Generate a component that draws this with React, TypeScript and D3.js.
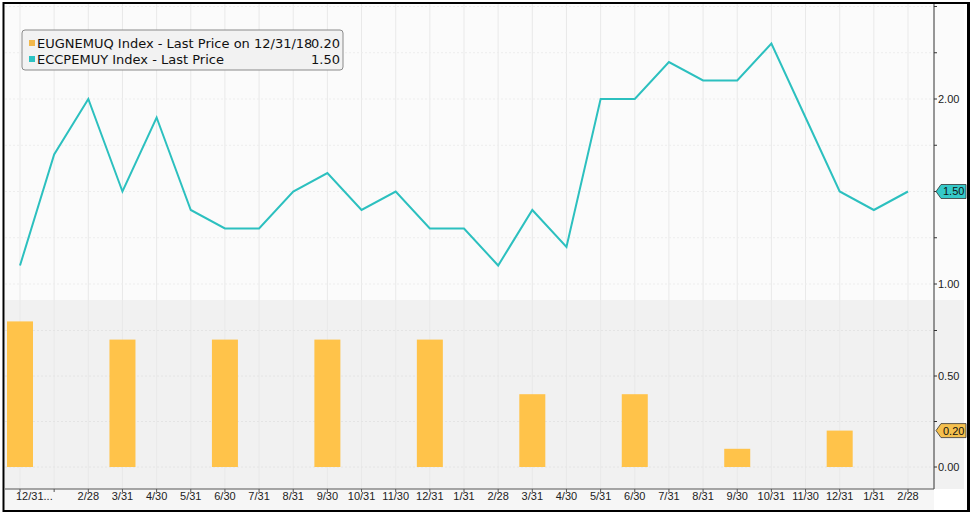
import * as d3 from "d3";
import React, { useEffect, useRef } from "react";

const width = 978;
const height = 519;

// month-end labels, 12/31/16 .. 2/28/19
const months = [
    "12/31", "1/31", "2/28", "3/31", "4/30", "5/31", "6/30", "7/31", "8/31",
    "9/30", "10/31", "11/30", "12/31", "1/31", "2/28", "3/31", "4/30", "5/31",
    "6/30", "7/31", "8/31", "9/30", "10/31", "11/30", "12/31", "1/31", "2/28",
];

// ECCPEMUY Index (line, upper panel)
const lineValues = [
    1.1, 1.7, 2.0, 1.5, 1.9, 1.4, 1.3, 1.3, 1.5, 1.6, 1.4, 1.5, 1.3, 1.3,
    1.1, 1.4, 1.2, 2.0, 2.0, 2.2, 2.1, 2.1, 2.3, 1.9, 1.5, 1.4, 1.5,
];

// EUGNEMUQ Index (quarterly bars, lower panel)
const barValues: Array<number | null> = [
    0.8, null, null, 0.7, null, null, 0.7, null, null, 0.7, null, null, 0.7, null,
    null, 0.4, null, null, 0.4, null, null, 0.1, null, null, 0.2, null, null,
];

// labelled ticks; the last value of each series is shown as a tag instead
const upperTicks = [1.0, 2.0];
const upperMinor = [1.25, 1.5, 1.75, 2.25, 2.5];
const lowerTicks = [0.0, 0.5];
const lowerMinor = [0.25, 0.75];

const legendItems = [
    { name: "EUGNEMUQ Index - Last Price on 12/31/18", value: "0.20", color: "#f2b84b" },
    { name: "ECCPEMUY Index - Last Price", value: "1.50", color: "#2cc3c3" },
];

const lineColor = "#2cc0bf";
const barColor = "#ffc34a";
const font = "'Liberation Sans', Arial, sans-serif";
const legendFont = "'DejaVu Sans', Verdana, sans-serif";

const App: React.FC = () => {
    const ref = useRef<SVGSVGElement>(null);

    useEffect(() => {
        if (!ref.current) return;
        const svg = d3.select(ref.current);
        svg.selectAll("*").remove();

        const left = 5, right = 934, top = 4, mid = 300, bottom = 489;

        const x = d3.scalePoint<number>()
            .domain(d3.range(months.length))
            .range([20, 908]);
        const yTop = d3.scaleLinear().domain([1, 2]).range([284, 99]);
        const yBot = d3.scaleLinear().domain([0, 0.5]).range([467, 376]);

        // backgrounds
        svg.append("rect").attr("width", width).attr("height", height).attr("fill", "#ffffff");
        svg.append("rect").attr("x", left).attr("y", top).attr("width", 964 - left).attr("height", mid - top)
            .attr("fill", "#fbfbfb");
        svg.append("rect").attr("x", left).attr("y", mid).attr("width", 964 - left).attr("height", bottom - mid)
            .attr("fill", "#f1f1f1");
        svg.append("rect").attr("x", left).attr("y", bottom).attr("width", right - left).attr("height", 510 - bottom)
            .attr("fill", "#f6f6f6");

        // grid
        const grid = svg.append("g").attr("stroke-width", 1).attr("fill", "none");
        grid.selectAll(null)
            .data(d3.range(months.length))
            .enter()
            .append("line")
            .attr("x1", (d) => x(d)!)
            .attr("x2", (d) => x(d)!)
            .attr("y1", top)
            .attr("y2", bottom)
            .attr("stroke", "#e9e9e9");
        grid.selectAll(null)
            .data([...upperTicks, ...upperMinor])
            .enter()
            .append("line")
            .attr("x1", left).attr("x2", right)
            .attr("y1", (d) => yTop(d)).attr("y2", (d) => yTop(d))
            .attr("stroke", "#ededed")
            .attr("stroke-dasharray", "2,2");
        grid.selectAll(null)
            .data([...lowerTicks, ...lowerMinor])
            .enter()
            .append("line")
            .attr("x1", left).attr("x2", right)
            .attr("y1", (d) => yBot(d)).attr("y2", (d) => yBot(d))
            .attr("stroke", "#e4e4e4")
            .attr("stroke-dasharray", "2,2");

        // bars
        const bw = 26;
        svg.append("g")
            .selectAll("rect")
            .data(barValues.map((v, i) => [i, v] as [number, number | null]).filter((d) => d[1] !== null))
            .join("rect")
            .attr("x", (d) => Math.max(left, x(d[0])! - bw / 2))
            .attr("width", (d) => x(d[0])! + bw / 2 - Math.max(left, x(d[0])! - bw / 2))
            .attr("y", (d) => yBot(d[1] as number))
            .attr("height", (d) => yBot(0) - yBot(d[1] as number))
            .attr("fill", barColor);

        // line
        const line = d3.line<number>()
            .x((_, i) => x(i)!)
            .y((d) => yTop(d));
        svg.append("path")
            .attr("d", line(lineValues))
            .attr("fill", "none")
            .attr("stroke", lineColor)
            .attr("stroke-width", 2)
            .attr("stroke-linejoin", "miter");

        // right axis
        svg.append("line")
            .attr("x1", right).attr("x2", right)
            .attr("y1", top).attr("y2", bottom)
            .attr("stroke", "#333").attr("stroke-width", 1);
        const addTicks = (scale: d3.ScaleLinear<number, number>, major: number[], minor: number[]) => {
            const g = svg.append("g");
            g.selectAll(null).data([...major, ...minor]).enter().append("line")
                .attr("x1", right).attr("x2", right + 3)
                .attr("y1", (d) => scale(d)).attr("y2", (d) => scale(d))
                .attr("stroke", "#333");
            g.selectAll(null).data(major).enter().append("text")
                .attr("x", right + 4)
                .attr("y", (d) => scale(d))
                .attr("dy", "0.35em")
                .style("font-family", font)
                .style("font-size", "11px")
                .attr("fill", "#222")
                .text((d) => d3.format(".2f")(d));
        };
        addTicks(yTop, upperTicks, upperMinor);
        addTicks(yBot, lowerTicks, lowerMinor);

        // value tags
        const tag = (yv: number, text: string, fill: string) => {
            const g = svg.append("g").attr("transform", `translate(${right + 2}, ${yv})`);
            g.append("path")
                .attr("d", "M0,0 L5,-7 L30,-7 L30,7 L5,7 Z")
                .attr("fill", fill)
                .attr("stroke", "#333")
                .attr("stroke-width", 0.8);
            g.append("text")
                .attr("x", 7).attr("dy", "0.36em")
                .style("font-family", font)
                .style("font-size", "11px")
                .attr("fill", "#111")
                .text(text);
        };
        tag(yTop(lineValues[lineValues.length - 1]), "1.50", "#35c9c9");
        tag(yBot(0.2), "0.20", "#f5c04e");

        // x axis
        svg.append("line")
            .attr("x1", left).attr("x2", right)
            .attr("y1", bottom).attr("y2", bottom)
            .attr("stroke", "#555");
        svg.append("g")
            .selectAll("line")
            .data(d3.range(months.length))
            .join("line")
            .attr("x1", (d) => x(d)!).attr("x2", (d) => x(d)!)
            .attr("y1", bottom).attr("y2", bottom + 3)
            .attr("stroke", "#555");
        svg.append("g")
            .selectAll("text")
            .data(months.map((m, i) => [i, i === 0 ? m + "..." : i === 1 ? "" : m] as [number, string]))
            .join("text")
            .attr("x", (d) => (d[0] === 0 ? 16 : x(d[0])!))
            .attr("y", 500)
            .attr("text-anchor", (d) => (d[0] === 0 ? "start" : "middle"))
            .style("font-family", font)
            .style("font-size", "11px")
            .attr("fill", "#222")
            .text((d) => d[1]);

        // legend
        const legend = svg.append("g").attr("transform", "translate(22, 30)");
        legend.append("rect")
            .attr("width", 321).attr("height", 40)
            .attr("rx", 3)
            .attr("fill", "#f2f2f2")
            .attr("stroke", "#8a8a8a")
            .attr("stroke-width", 1);
        legendItems.forEach((item, i) => {
            const cy = 13 + i * 16;
            legend.append("rect")
                .attr("x", 7).attr("y", cy - 3)
                .attr("width", 6).attr("height", 6)
                .attr("fill", item.color);
            legend.append("text")
                .attr("x", 15).attr("y", cy).attr("dy", "0.36em")
                .style("font-family", legendFont)
                .style("font-size", "13px")
                .attr("fill", "#111")
                .text(item.name);
            legend.append("text")
                .attr("x", 318).attr("y", cy).attr("dy", "0.36em")
                .attr("text-anchor", "end")
                .style("font-family", legendFont)
                .style("font-size", "13px")
                .attr("fill", "#111")
                .text(item.value);
        });

        // frame
        svg.append("rect")
            .attr("x", 3.5).attr("y", 3).attr("width", 965).attr("height", 508)
            .attr("fill", "none")
            .attr("stroke", "#000")
            .attr("stroke-width", 2);
        svg.append("line")
            .attr("x1", 968.5).attr("x2", 968.5).attr("y1", 2).attr("y2", 512)
            .attr("stroke", "#000").attr("stroke-width", 3);
    }, []);

    return (
        <svg
            ref={ref}
            width={width}
            height={height}
            viewBox={`0 0 ${width} ${height}`}
            style={{ position: "absolute", left: 0, top: 0 }}
        />
    );
};

export default App;
